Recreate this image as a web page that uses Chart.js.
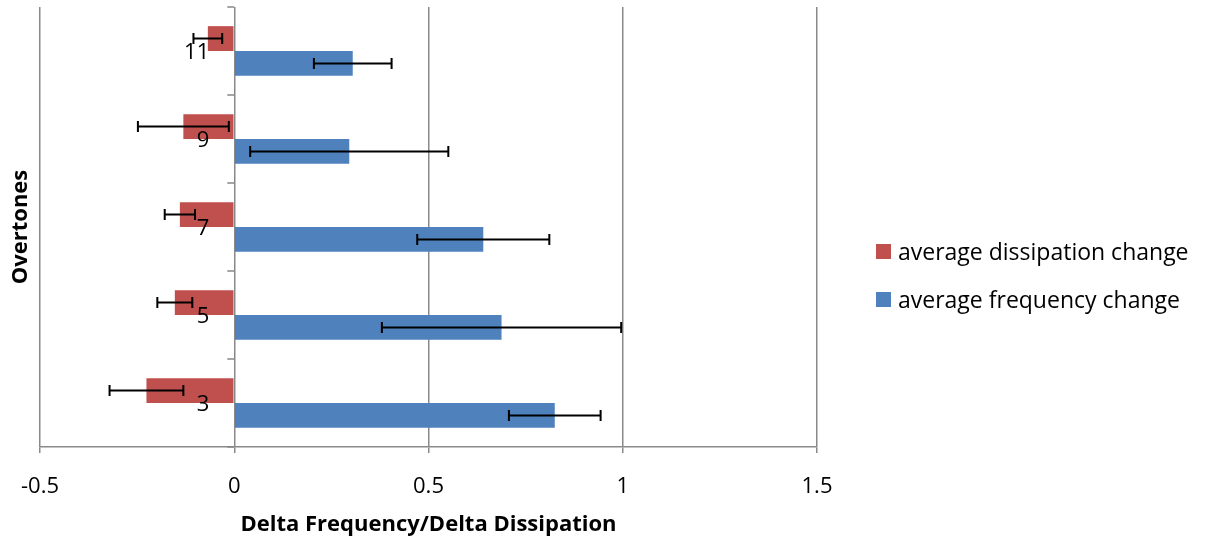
<!DOCTYPE html>
<html>
  <head>
    <title>Overtones - Delta Frequency / Delta Dissipation</title>
    <script src="https://cdn.jsdelivr.net/npm/chart.js"></script>
    <style>
      body { margin: 0; background: #fff; }
      #wrap { position: relative; width: 1206px; height: 543px; }
      #legend { position: absolute; left: 876px; top: 227px; font-family: "Open Sans"; font-size: 23px; color: #000; }
      #legend .item { display: flex; align-items: center; height: 48px; white-space: nowrap; }
      #legend .box { width: 15px; height: 15px; margin-right: 7px; flex: none; }
    </style>
  </head>
  <body>
    <div id="wrap">
      <canvas id="bar-chart"></canvas>
      <div id="legend"></div>
    </div>
    <script>
      // Data (top to bottom)
      const overtones = ["11", "9", "7", "5", "3"];
      const dissipation = [-0.068, -0.131, -0.140, -0.153, -0.226];
      const dissipationErr = [0.037, 0.117, 0.039, 0.045, 0.095];
      const frequency = [0.305, 0.296, 0.641, 0.688, 0.825];
      const frequencyErr = [0.100, 0.255, 0.170, 0.308, 0.118];
      const xTicks = [-0.5, 0, 0.5, 1, 1.5];

      const font = "Open Sans";
      const gray = "#898989";

      // Horizontal error bars with small caps
      const errorBars = {
        id: "errorBars",
        afterDatasetsDraw(chart) {
          const ctx = chart.ctx;
          const x = chart.scales.x;
          const errs = [dissipationErr, frequencyErr];
          ctx.save();
          ctx.strokeStyle = "#000";
          ctx.lineWidth = 2;
          chart.data.datasets.forEach((ds, i) => {
            chart.getDatasetMeta(i).data.forEach((bar, j) => {
              const v = ds.data[j], e = errs[i][j];
              const x1 = x.getPixelForValue(v - e);
              const x2 = x.getPixelForValue(v + e);
              const y = bar.y;
              ctx.beginPath();
              ctx.moveTo(x1, y); ctx.lineTo(x2, y);
              ctx.moveTo(x1, y - 5.5); ctx.lineTo(x1, y + 5.5);
              ctx.moveTo(x2, y - 5.5); ctx.lineTo(x2, y + 5.5);
              ctx.stroke();
            });
          });
          ctx.restore();
        }
      };

      // Category axis crossing at x = 0: tick marks between categories and the labels
      const zeroAxis = {
        id: "zeroAxis",
        afterDatasetsDraw(chart) {
          const ctx = chart.ctx;
          const y = chart.scales.y;
          const x0 = chart.scales.x.getPixelForValue(0);
          const n = chart.data.labels.length;
          const band = (y.bottom - y.top) / n;
          ctx.save();
          ctx.strokeStyle = gray;
          ctx.lineWidth = 1.5;
          ctx.beginPath();
          for (let i = 0; i <= n; i++) {
            const py = y.top + i * band;
            ctx.moveTo(x0 - 7, py); ctx.lineTo(x0, py);
          }
          ctx.stroke();
          ctx.fillStyle = "#000";
          ctx.font = "22px '" + font + "'";
          ctx.textAlign = "right";
          ctx.textBaseline = "middle";
          chart.data.labels.forEach((lab, i) => {
            ctx.fillText(lab, x0 - 25, y.getPixelForValue(i) + 2);
          });
          ctx.restore();
        }
      };

      const ctx = document.getElementById("bar-chart").getContext("2d");
      const chart = new Chart(ctx, {
        type: "bar",
        data: {
          labels: overtones,
          datasets: [
            {
              label: "average dissipation change",
              data: dissipation,
              backgroundColor: "#C0504D",
              categoryPercentage: 0.565,
              barPercentage: 1
            },
            {
              label: "average frequency change",
              data: frequency,
              backgroundColor: "#4F81BD",
              categoryPercentage: 0.565,
              barPercentage: 1
            }
          ]
        },
        plugins: [errorBars, zeroAxis],
        options: {
          indexAxis: "y",
          responsive: true,
          maintainAspectRatio: false,
          animation: false,
          layout: { padding: { top: 7, left: 0, right: 389, bottom: 0 } },
          scales: {
            x: {
              type: "linear",
              min: -0.5,
              max: 1.5,
              afterBuildTicks: (s) => { s.ticks = xTicks.map(v => ({ value: v })); },
              afterFit: (s) => { s.height = 96; },
              grid: { color: gray, lineWidth: 1.5, tickLength: 6 },
              border: { color: gray, width: 1.5 },
              ticks: {
                color: "#000",
                padding: 21,
                callback: (v) => String(v),
                font: { family: font, size: 22 }
              },
              title: {
                display: true,
                text: "Delta Frequency/Delta Dissipation",
                color: "#000",
                font: { family: font, size: 22, weight: "bold" },
                padding: { top: 4, bottom: 5 }
              }
            },
            y: {
              position: "left",
              afterFit: (s) => { s.width = 39; },
              grid: { display: false, drawTicks: false },
              border: { display: false },
              ticks: { display: false },
              title: {
                display: true,
                text: "Overtones",
                color: "#000",
                font: { family: font, size: 22, weight: "bold" },
                padding: { top: 7, bottom: 5 }
              }
            }
          },
          plugins: {
            legend: { display: false },
            tooltip: { enabled: false }
          }
        }
      });

      // HTML legend built from the datasets
      const legendEl = document.getElementById("legend");
      chart.data.datasets.forEach(ds => {
        const item = document.createElement("div");
        item.className = "item";
        const box = document.createElement("span");
        box.className = "box";
        box.style.background = ds.backgroundColor;
        const txt = document.createElement("span");
        txt.textContent = ds.label;
        item.appendChild(box);
        item.appendChild(txt);
        legendEl.appendChild(item);
      });
    </script>
  </body>
</html>
